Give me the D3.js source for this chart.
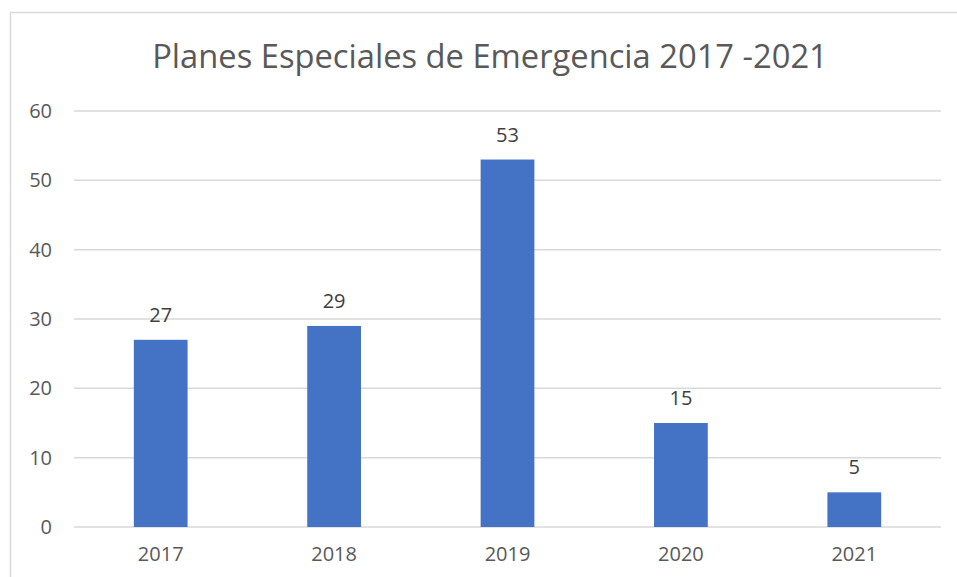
<!DOCTYPE html>
<html>
<head>
<meta charset="utf-8">
<script src="https://cdn.jsdelivr.net/npm/d3@7"></script>
<style>
  html, body { margin: 0; padding: 0; background: #fff; }
  svg { display: block; font-family: "Open Sans", sans-serif; }
</style>
</head>
<body>
<svg width="957" height="577"></svg>
<script>
const years = ["2017", "2018", "2019", "2020", "2021"];
const planes = [27, 29, 53, 15, 5];
const yTicks = [0, 10, 20, 30, 40, 50, 60];
const title = "Planes Especiales de Emergencia 2017 -2021";

const svg = d3.select("svg");
const width = 957, height = 577;
const margin = { top: 111, right: 16, bottom: 50, left: 74 };

// marco del gráfico
svg.append("rect")
    .attr("x", 10.5).attr("y", 12.5)
    .attr("width", width).attr("height", height)
    .attr("fill", "#fff")
    .attr("stroke", "#d9d9d9")
    .attr("stroke-width", 1.5);

const x = d3.scaleBand()
    .domain(years)
    .range([margin.left, width - margin.right])
    .paddingInner(0.69)
    .paddingOuter(0.345);

const y = d3.scaleLinear()
    .domain([0, 60])
    .range([height - margin.bottom, margin.top]);

// líneas de cuadrícula
svg.append("g")
    .selectAll("line")
    .data(yTicks)
    .join("line")
    .attr("x1", margin.left)
    .attr("x2", width - margin.right)
    .attr("y1", d => y(d))
    .attr("y2", d => y(d))
    .attr("stroke", "#d9d9d9")
    .attr("stroke-width", 1.5);

// eje Y
const yAxis = svg.append("g")
    .attr("transform", `translate(${margin.left - 22},0)`)
    .call(d3.axisLeft(y).tickValues(yTicks).tickSize(0).tickPadding(0));
yAxis.select(".domain").remove();
yAxis.selectAll("text")
    .attr("fill", "#595959")
    .style("font-size", "20px")
    .style("font-family", "Open Sans, sans-serif");

// eje X
const xAxis = svg.append("g")
    .attr("transform", `translate(0,${height - margin.bottom})`)
    .call(d3.axisBottom(x).tickSize(0).tickPadding(20));
xAxis.select(".domain").remove();
xAxis.selectAll("text")
    .attr("fill", "#595959")
    .style("font-size", "20px")
    .style("font-family", "Open Sans, sans-serif");

// barras
const data = years.map((d, i) => ({ year: d, value: planes[i] }));
svg.append("g")
    .selectAll("rect")
    .data(data)
    .join("rect")
    .attr("x", d => x(d.year))
    .attr("y", d => y(d.value))
    .attr("width", x.bandwidth())
    .attr("height", d => y(0) - y(d.value))
    .attr("fill", "#4472c4");

// etiquetas de datos
svg.append("g")
    .selectAll("text")
    .data(data)
    .join("text")
    .attr("x", d => x(d.year) + x.bandwidth() / 2)
    .attr("y", d => y(d.value) - 18)
    .attr("text-anchor", "middle")
    .attr("fill", "#404040")
    .style("font-size", "20px")
    .text(d => d.value);

// título
const t = svg.append("text")
    .attr("x", 490)
    .attr("y", 68)
    .attr("text-anchor", "middle")
    .attr("fill", "#595959")
    .style("font-size", "32px")
    .text(title);
const len = t.node().getComputedTextLength();
if (len > 0) t.style("font-size", (32 * 676 / len) + "px");
</script>
</body>
</html>
